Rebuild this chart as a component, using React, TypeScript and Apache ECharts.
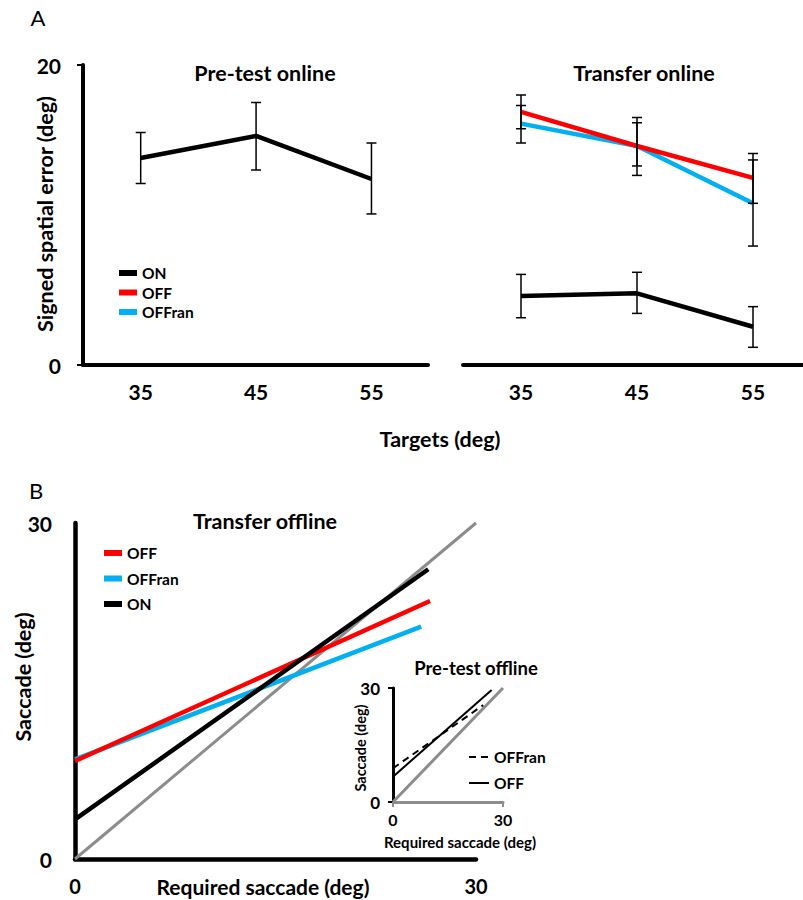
import React, { useEffect, useRef } from 'react';
import * as echarts from 'echarts';

// ---------- Panel A data ----------
const targets = [35, 45, 55];
const targetLabels = [35, 45, 55];
const yTicksA = [0, 20];

const preOn = [13.8, 15.27, 12.4];
const preOnLow = [12.1, 13.0, 10.07];
const preOnHigh = [15.5, 17.5, 14.8];

const trOff = [16.87, 14.6, 12.47];
const trOffLow = [15.75, 13.27, 10.78];
const trOffHigh = [18.0, 16.15, 14.1];

const trOffran = [16.09, 14.6, 10.78];
const trOffranLow = [14.8, 12.64, 7.93];
const trOffranHigh = [17.3, 16.5, 13.67];

const trOn = [4.6, 4.78, 2.55];
const trOnLow = [3.15, 3.44, 1.18];
const trOnHigh = [6.04, 6.18, 3.89];

// ---------- Panel B data (x = required saccade, y = saccade) ----------
const identityLine = [[0, 0], [30, 30]];
const offFit = [[0, 8.75], [26.56, 23.04]];
const offranFit = [[0, 8.9], [25.9, 20.74]];
const onFit = [[0, 3.54], [26.43, 25.87]];
const preOffFit = [[0, 6.66], [26.9, 29.5]];
const preOffranFit = [[0, 8.87], [24.6, 25.5]];

const FONT = 'Lato';
const RED = '#FF0000';
const BLUE = '#00B0F0';
const GRAY = '#8C8C8C';

const renderErr = (params: any, api: any) => {
  const x = api.value(0);
  const lo = api.coord([x, api.value(1)]);
  const hi = api.coord([x, api.value(2)]);
  const w = 5;
  const style = { stroke: '#000', lineWidth: 1.5 };
  return {
    type: 'group',
    children: [
      { type: 'line', shape: { x1: lo[0], y1: lo[1], x2: hi[0], y2: hi[1] }, style },
      { type: 'line', shape: { x1: lo[0] - w, y1: lo[1], x2: lo[0] + w, y2: lo[1] }, style },
      { type: 'line', shape: { x1: hi[0] - w, y1: hi[1], x2: hi[0] + w, y2: hi[1] }, style },
    ],
  };
};

const pts = (vals: number[]) => targets.map((t, i) => [t, vals[i]]);
const errs = (lo: number[], hi: number[]) => targets.map((t, i) => [t, lo[i], hi[i]]);

const boldLabel = (size: number, margin: number) => ({
  fontFamily: FONT,
  fontWeight: 'bold',
  fontSize: size,
  color: '#000',
  margin,
});

const txt = (text: string, x: number, y: number, size: number, bold = true, rotate = false) => ({
  type: 'text',
  x,
  y,
  rotation: rotate ? Math.PI / 2 : 0,
  style: {
    text,
    fill: '#000',
    fontFamily: FONT,
    fontWeight: bold ? 'bold' : 'normal',
    fontSize: size,
    align: 'center',
    verticalAlign: 'middle',
  },
});

export default function App() {
  const ref = useRef<HTMLDivElement>(null);

  useEffect(() => {
    document.body.style.margin = '0';
    if (!ref.current) return;
    const chart = echarts.init(ref.current, undefined, { renderer: 'svg' });

    const lineSeries = (name: string, xi: number, data: any, color: string, width: number, extra: any = {}) => ({
      type: 'line',
      name,
      xAxisIndex: xi,
      yAxisIndex: xi,
      data,
      symbol: 'none',
      color,
      lineStyle: { color, width, cap: 'butt', ...(extra.lineStyle || {}) },
      z: extra.z ?? 2,
      silent: true,
    });

    const errSeries = (xi: number, data: any) => ({
      type: 'custom',
      name: 'err',
      xAxisIndex: xi,
      yAxisIndex: xi,
      data,
      encode: { x: 0, y: [1, 2] },
      renderItem: renderErr,
      z: 5,
      silent: true,
    });

    const option: any = {
      animation: false,
      backgroundColor: '#fff',
      grid: [
        { left: 83, top: 65, width: 345, height: 300 },
        { left: 463, top: 65, width: 340, height: 300 },
        { left: 75, top: 523, width: 401, height: 336 },
        { left: 393, top: 688, width: 110, height: 114 },
      ],
      xAxis: [
        {
          gridIndex: 0, type: 'value', min: 30, max: 59.9,
          axisLine: { show: true, lineStyle: { color: '#000', width: 4 } },
          axisTick: { show: false }, splitLine: { show: false },
          axisLabel: { ...boldLabel(21, 16), customValues: targetLabels },
        },
        {
          gridIndex: 1, type: 'value', min: 30, max: 59.31,
          axisLine: { show: true, lineStyle: { color: '#000', width: 4 } },
          axisTick: { show: false }, splitLine: { show: false },
          axisLabel: { ...boldLabel(21, 16), customValues: targetLabels },
        },
        {
          gridIndex: 2, type: 'value', min: 0, max: 30, interval: 30,
          axisLine: { show: true, lineStyle: { color: '#000', width: 4.5 } },
          axisTick: { show: false }, splitLine: { show: false },
          axisLabel: { ...boldLabel(20, 17), showMinLabel: true, showMaxLabel: true },
        },
        {
          gridIndex: 3, type: 'value', min: 0, max: 30, interval: 30,
          axisLine: { show: true, lineStyle: { color: GRAY, width: 3 } },
          axisTick: { show: true, length: 5, lineStyle: { color: GRAY, width: 2 } },
          splitLine: { show: false },
          axisLabel: { ...boldLabel(16, 9), showMinLabel: true, showMaxLabel: true },
        },
      ],
      yAxis: [
        {
          gridIndex: 0, type: 'value', min: yTicksA[0], max: yTicksA[1], interval: 20,
          axisLine: { show: true, lineStyle: { color: '#000', width: 4 } },
          axisTick: { show: true, length: 6, lineStyle: { color: '#000', width: 2 } },
          splitLine: { show: false },
          axisLabel: boldLabel(21, 22),
        },
        {
          gridIndex: 1, type: 'value', min: yTicksA[0], max: yTicksA[1], show: false,
          splitLine: { show: false },
        },
        {
          gridIndex: 2, type: 'value', min: 0, max: 30, interval: 30,
          axisLine: { show: true, lineStyle: { color: '#000', width: 4.5 } },
          axisTick: { show: false }, splitLine: { show: false },
          axisLabel: { ...boldLabel(21, 23), showMinLabel: true, showMaxLabel: true },
        },
        {
          gridIndex: 3, type: 'value', min: 0, max: 30, interval: 30,
          axisLine: { show: true, lineStyle: { color: '#000', width: 3 } },
          axisTick: { show: true, length: 5, lineStyle: { color: '#000', width: 2 } },
          splitLine: { show: false },
          axisLabel: { ...boldLabel(17, 13), showMinLabel: true, showMaxLabel: true },
        },
      ],
      legend: [
        {
          data: ['ON', 'OFF', 'OFFran'], orient: 'vertical', left: 114, top: 260,
          itemWidth: 18, itemHeight: 6, itemGap: 3.5, icon: 'rect', selectedMode: false,
          textStyle: { fontFamily: FONT, fontWeight: 'bold', fontSize: 15.5, lineHeight: 16, color: '#000' },
        },
        {
          data: ['OFF', 'OFFran', 'ON'], orient: 'vertical', left: 99, top: 540,
          itemWidth: 18, itemHeight: 6, itemGap: 9.5, icon: 'rect', selectedMode: false,
          textStyle: { fontFamily: FONT, fontWeight: 'bold', fontSize: 15.5, lineHeight: 16, color: '#000' },
        },
        {
          data: ['OFFran (pre-test)', 'OFF (pre-test)'], orient: 'vertical', left: 463, top: 744,
          itemWidth: 20, itemHeight: 8, itemGap: 10, selectedMode: false,
          formatter: (n: string) => n.split(' ')[0],
          itemStyle: { opacity: 0 },
          textStyle: { fontFamily: FONT, fontWeight: 'bold', fontSize: 15.5, lineHeight: 16, color: '#000' },
        },
      ],
      series: [
        // Panel A, pre-test online
        lineSeries('ON', 0, pts(preOn), '#000', 4.5),
        errSeries(0, errs(preOnLow, preOnHigh)),
        // Panel A, transfer online
        lineSeries('OFFran', 1, pts(trOffran), BLUE, 4.5),
        lineSeries('OFF', 1, pts(trOff), RED, 4.5),
        lineSeries('ON', 1, pts(trOn), '#000', 4.5),
        errSeries(1, errs(trOffLow, trOffHigh)),
        errSeries(1, errs(trOffranLow, trOffranHigh)),
        errSeries(1, errs(trOnLow, trOnHigh)),
        // Panel B, transfer offline
        lineSeries('identity', 2, identityLine, GRAY, 3, { z: 1 }),
        lineSeries('OFFran', 2, offranFit, BLUE, 4.5),
        lineSeries('OFF', 2, offFit, RED, 4.5),
        lineSeries('ON', 2, onFit, '#000', 4.5, { z: 3 }),
        // Inset, pre-test offline
        lineSeries('identity ', 3, identityLine, GRAY, 3, { z: 1 }),
        lineSeries('OFFran (pre-test)', 3, preOffranFit, '#000', 2, { lineStyle: { type: [7, 5] } }),
        lineSeries('OFF (pre-test)', 3, preOffFit, '#000', 2),
      ],
      graphic: [
        txt('A', 38, 17, 22, false),
        txt('B', 36, 490, 22, false),
        txt('Pre-test online', 265, 73, 21.5),
        txt('Transfer online', 644, 73, 21.5),
        txt('Signed spatial error (deg)', 45, 214, 21.5, true, true),
        txt('Targets (deg)', 440, 439, 21.5),
        txt('Transfer offline', 265, 521, 21.5),
        txt('Saccade (deg)', 23, 677, 21.5, true, true),
        txt('Required saccade (deg)', 263, 886, 21),
        txt('Pre-test offline', 476, 668, 18.5),
        txt('Required saccade (deg)', 460, 842, 15),
        txt('Saccade (deg)', 360, 748, 14.5, true, true),
      ],
    };

    chart.setOption(option);
    return () => chart.dispose();
  }, []);

  return <div ref={ref} style={{ width: 803, height: 900 }} />;
}
